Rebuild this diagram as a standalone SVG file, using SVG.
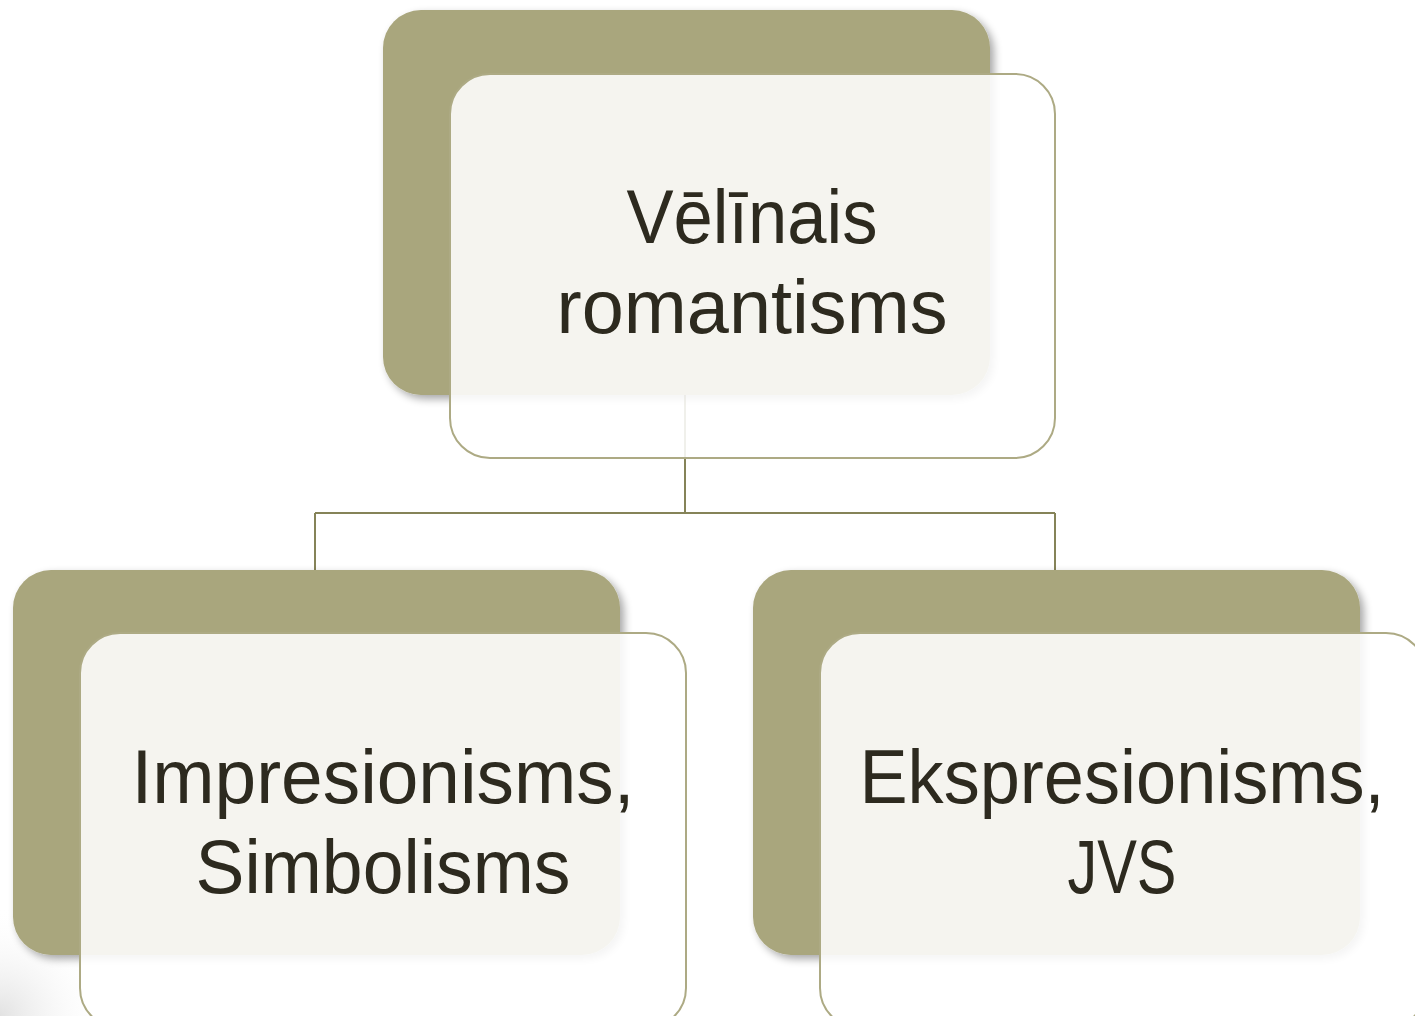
<svg xmlns="http://www.w3.org/2000/svg" width="1415" height="1016" viewBox="0 0 1415 1016">
  <defs>
    <filter id="shadow" x="-10%" y="-10%" width="125%" height="125%">
      <feGaussianBlur in="SourceAlpha" stdDeviation="4"/>
      <feOffset dx="4" dy="4" result="b"/>
      <feComponentTransfer><feFuncA type="linear" slope="0.35"/></feComponentTransfer>
      <feMerge><feMergeNode/><feMergeNode in="SourceGraphic"/></feMerge>
    </filter>
    <radialGradient id="corner" cx="0" cy="1016" r="110" gradientUnits="userSpaceOnUse">
      <stop offset="0" stop-color="#e2e2e2"/>
      <stop offset="1" stop-color="#ffffff" stop-opacity="0"/>
    </radialGradient>
  </defs>
  <style>
    .back { fill: #A9A67D; filter: url(#shadow); }
    .front { fill: #ffffff; fill-opacity: 0.88; stroke: #ADAA84; stroke-width: 2; }
    .conn { fill: none; stroke: #858358; stroke-width: 2; }
    .label { font-family: "Liberation Sans", Arial, sans-serif; font-size: 76px; fill: #2D2A1F; text-anchor: middle; }
  </style>
  <rect x="0" y="0" width="1415" height="1016" fill="#ffffff"/>
  <rect x="0" y="906" width="110" height="110" fill="url(#corner)"/>
  <g id="connectors">
    <path class="conn" d="M685 390 V513 M315 513 H1055 M315 513 V572 M1055 513 V572"/>
  </g>
  <g id="node-top">
    <rect class="back" x="383" y="10" width="607" height="385" rx="38"/>
    <rect class="front" x="450" y="74" width="605" height="384" rx="40"/>
    <text class="label" x="752" y="243" textLength="251" lengthAdjust="spacingAndGlyphs">Vēlīnais</text>
    <text class="label" x="752" y="333" textLength="391" lengthAdjust="spacingAndGlyphs">romantisms</text>
  </g>
  <g id="node-left">
    <rect class="back" x="13" y="570" width="607" height="385" rx="38"/>
    <rect class="front" x="80" y="633" width="606" height="395" rx="40"/>
    <text class="label" x="383" y="803" textLength="503" lengthAdjust="spacingAndGlyphs">Impresionisms,</text>
    <text class="label" x="383" y="893" textLength="375" lengthAdjust="spacingAndGlyphs">Simbolisms</text>
  </g>
  <g id="node-right">
    <rect class="back" x="753" y="570" width="607" height="385" rx="38"/>
    <rect class="front" x="820" y="633" width="606" height="395" rx="40"/>
    <text class="label" x="1122" y="803" textLength="525" lengthAdjust="spacingAndGlyphs">Ekspresionisms,</text>
    <text class="label" x="1122" y="893" textLength="109" lengthAdjust="spacingAndGlyphs">JVS</text>
  </g>
</svg>
